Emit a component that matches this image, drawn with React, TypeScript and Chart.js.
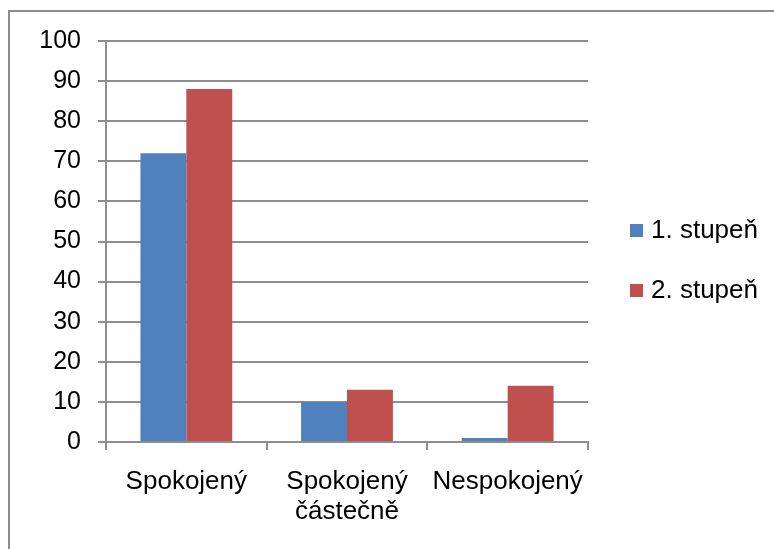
import React, { useEffect, useRef } from "react";
import { Chart, registerables } from "chart.js";

Chart.register(...registerables);

const categories: (string | string[])[] = ["Spokojený", ["Spokojený", "částečně"], "Nespokojený"];
const seriesNames = ["1. stupeň", "2. stupeň"];
const series1 = [72, 10, 1];
const series2 = [88, 13, 14];
const seriesColors = ["#4F81BD", "#C0504D"];
const yTicks = { min: 0, max: 100, step: 10 };

const FONT = "'Liberation Sans', Arial, sans-serif";
const GRID = "#8e8e8e";

const legendPlugin = {
  id: "customLegend",
  afterDraw(chart: any) {
    const ctx = chart.ctx;
    ctx.save();
    ctx.font = `26px ${FONT}`;
    ctx.textBaseline = "middle";
    ctx.textAlign = "left";
    chart.data.datasets.forEach((ds: any, i: number) => {
      const cy = 231 + i * 60;
      ctx.fillStyle = ds.backgroundColor;
      ctx.fillRect(630, cy - 7, 13, 13);
      ctx.fillStyle = "#000";
      ctx.fillText(ds.label, 651, cy);
    });
    ctx.restore();
  },
};

export default function App() {
  const ref = useRef<HTMLCanvasElement | null>(null);
  useEffect(() => {
    if (!ref.current) return;
    const chart = new Chart(ref.current, {
      type: "bar",
      data: {
        labels: categories,
        datasets: [
          { label: seriesNames[0], data: series1, backgroundColor: seriesColors[0], borderWidth: 0 },
          { label: seriesNames[1], data: series2, backgroundColor: seriesColors[1], borderWidth: 0 },
        ],
      },
      options: {
        responsive: false,
        animation: false,
        devicePixelRatio: 1,
        categoryPercentage: 2 / 3.5,
        barPercentage: 1,
        layout: { padding: { left: 26, top: 41, right: 186, bottom: 0 } },
        plugins: {
          legend: { display: false },
          tooltip: { enabled: false },
        },
        scales: {
          x: {
            afterFit: (s: any) => {
              s.height = 107;
            },
            grid: {
              offset: true,
              drawOnChartArea: false,
              drawTicks: true,
              tickLength: 8,
              color: GRID,
              lineWidth: 2,
            },
            border: { display: true, color: GRID, width: 2 },
            ticks: {
              color: "#000",
              font: { family: FONT, size: 26, lineHeight: "30px" },
              padding: 17,
              maxRotation: 0,
              autoSkip: false,
            },
          },
          y: {
            min: yTicks.min,
            max: yTicks.max,
            afterFit: (s: any) => {
              s.width = 80;
            },
            grid: {
              drawTicks: true,
              tickLength: 8,
              color: GRID,
              lineWidth: 2,
            },
            border: { display: true, color: GRID, width: 2 },
            ticks: {
              stepSize: yTicks.step,
              color: "#000",
              font: { family: FONT, size: 25, lineHeight: 1.2 },
              padding: 17,
            },
          },
        },
      },
      plugins: [legendPlugin],
    });
    return () => chart.destroy();
  }, []);

  return (
    <div
      style={{
        position: "fixed",
        left: 0,
        top: 0,
        width: 774,
        height: 549,
        overflow: "hidden",
        background: "#fff",
      }}
    >
      <div
        style={{
          position: "absolute",
          left: 8,
          top: 10,
          width: 900,
          height: 700,
          border: "2px solid #8c8c8c",
          boxSizing: "border-box",
        }}
      />
      <canvas
        ref={ref}
        width={774}
        height={549}
        style={{ position: "absolute", left: 0, top: 0, width: 774, height: 549 }}
      />
    </div>
  );
}
